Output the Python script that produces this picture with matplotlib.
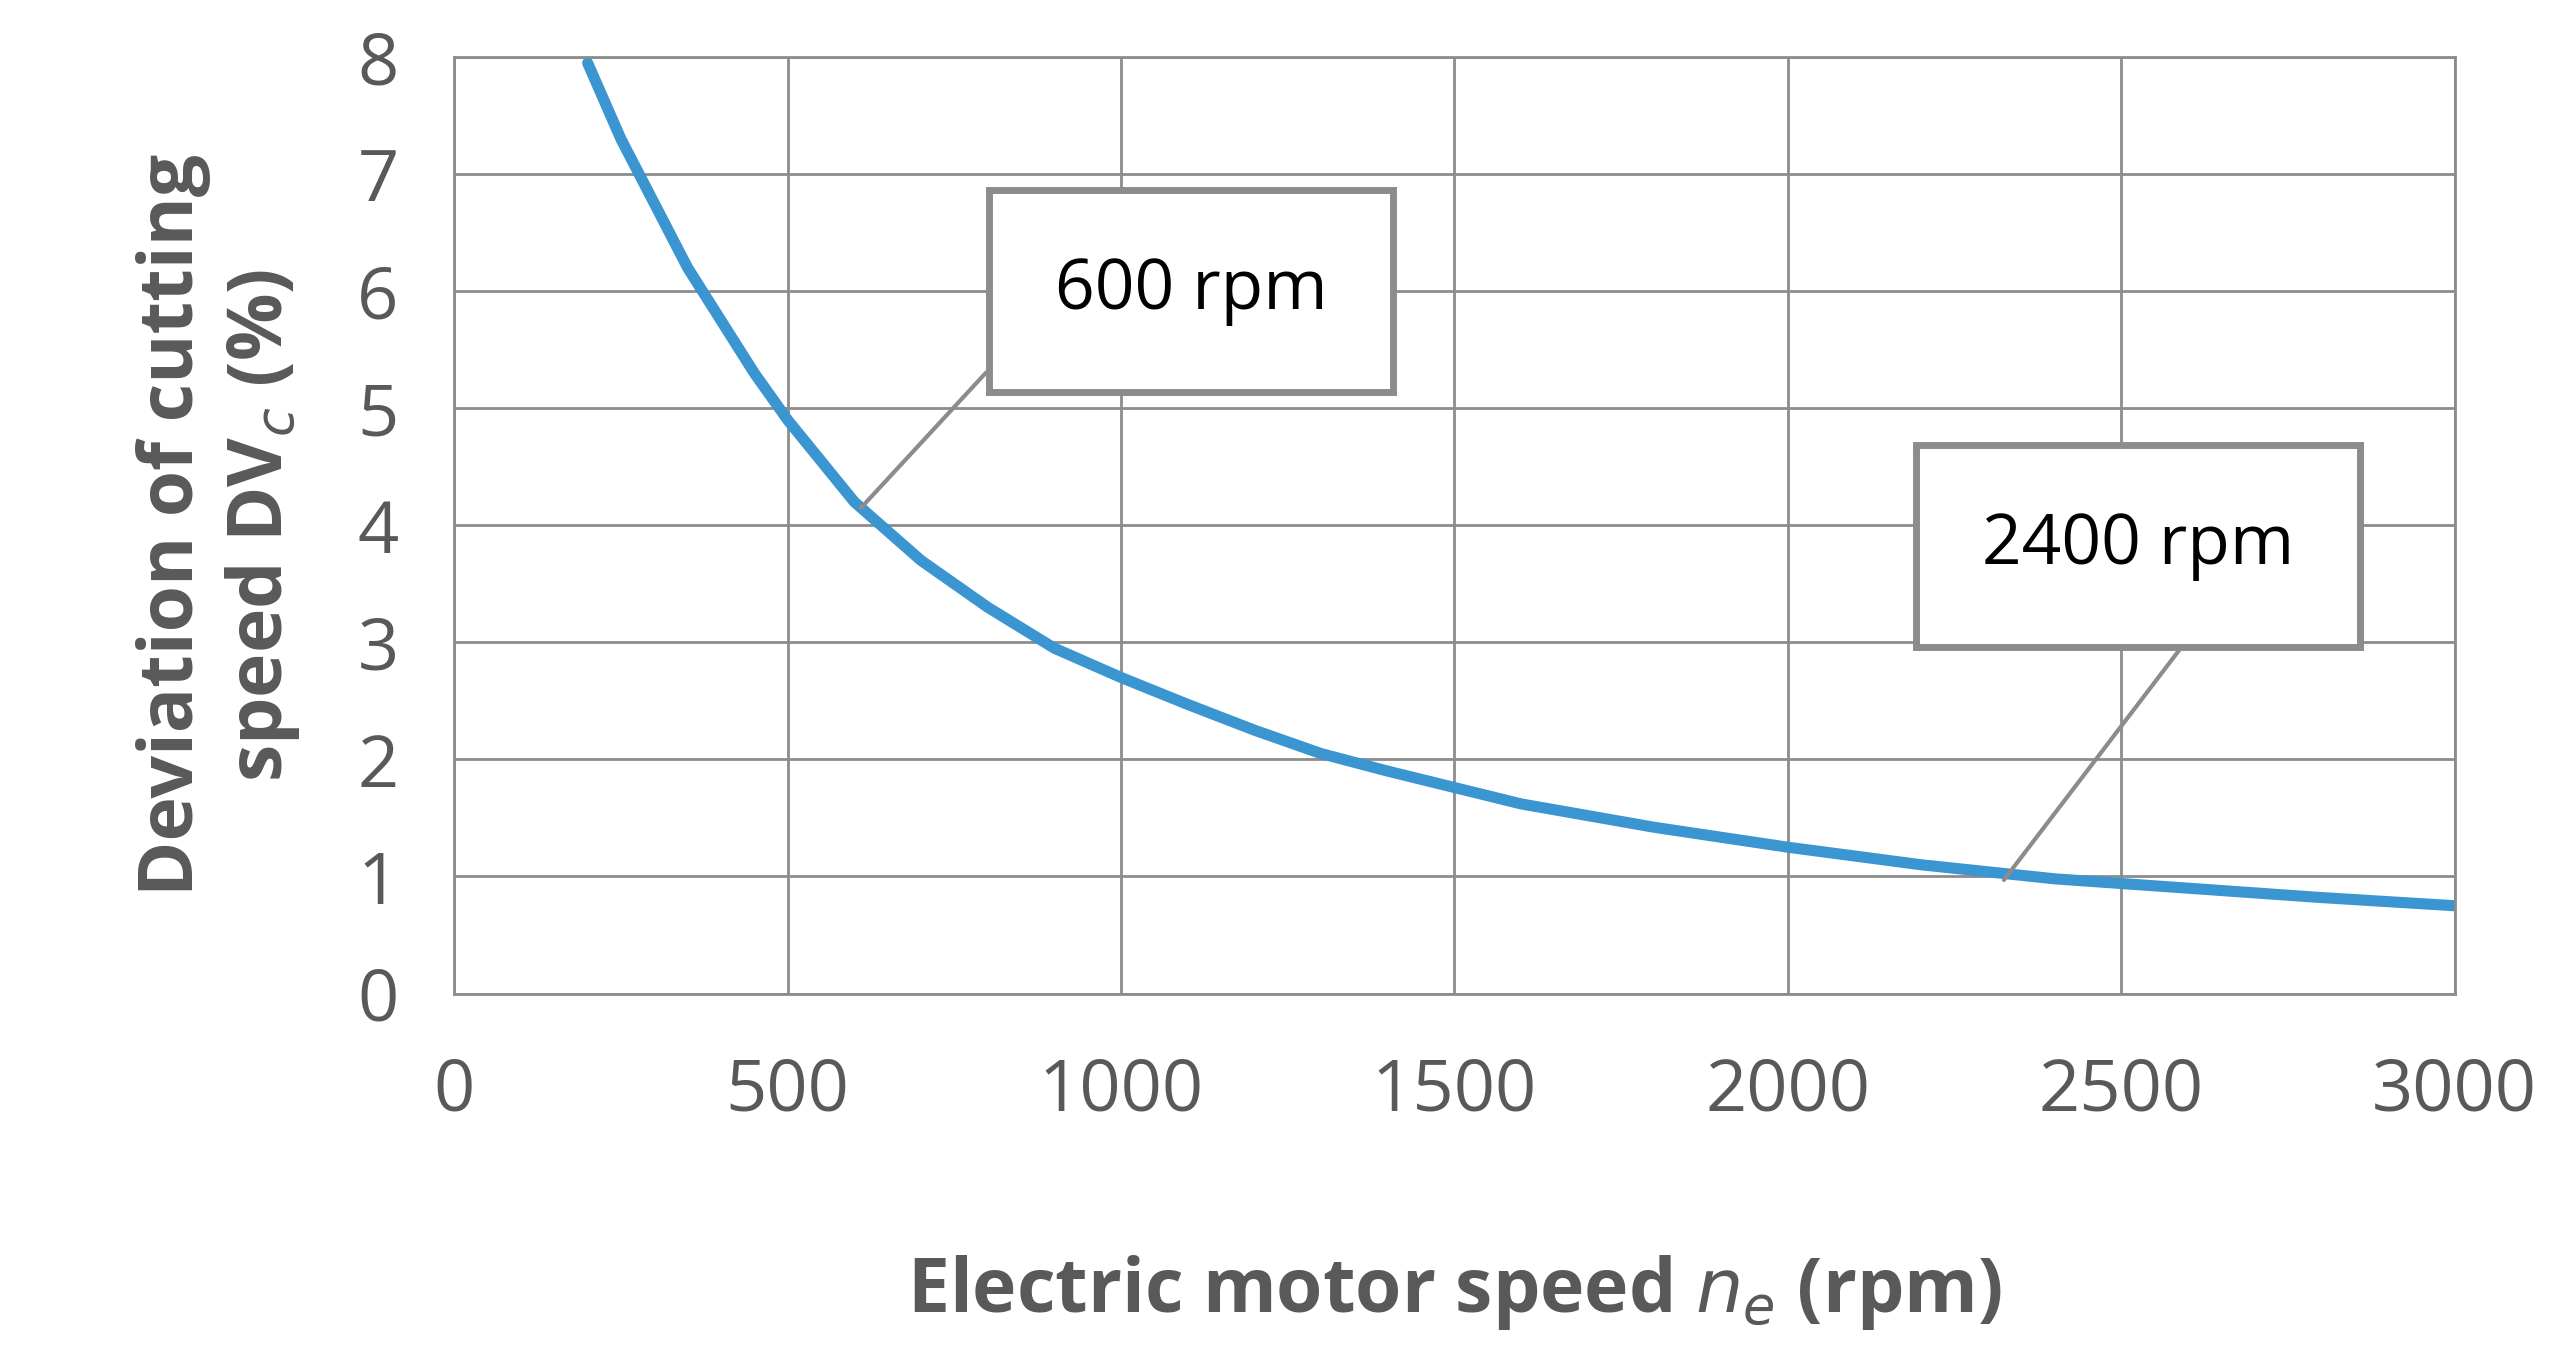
import matplotlib
matplotlib.use("Agg")
import matplotlib.pyplot as plt

speed = [200, 250, 300, 350, 400, 450, 500, 550, 600, 700, 800, 900, 1000, 1100, 1200, 1300, 1400, 1600, 1800, 2000, 2200, 2400, 2600, 2800, 3000]
deviation = [7.95, 7.3, 6.75, 6.2, 5.75, 5.3, 4.9, 4.55, 4.2, 3.7, 3.3, 2.95, 2.7, 2.47, 2.25, 2.05, 1.9, 1.62, 1.42, 1.25, 1.1, 0.98, 0.9, 0.82, 0.75]
ann_labels = ["600 rpm", "2400 rpm"]

plt.rcParams['font.family'] = ['Open Sans', 'DejaVu Sans']
gray = "#595959"
fig = plt.figure(figsize=(25.58, 13.61), dpi=100)
ax = fig.add_axes([0.1776, 0.270, 0.782, 0.688])
ax.plot(speed, deviation, color="#3b95d0", lw=8, solid_capstyle="round", solid_joinstyle="round")
ax.set_xlim(0, 3000)
ax.set_ylim(0, 8)
ax.set_xticks(range(0, 3001, 500))
ax.set_yticks(range(0, 9))
ax.grid(True, color="#8c8c8c", lw=2)
for s in ax.spines.values():
    s.set_color("#8c8c8c"); s.set_linewidth(2)
ax.tick_params(length=0, labelsize=52, labelcolor=gray, pad=40)
ax.tick_params(axis="x", pad=45)
ax.set_xlabel(r"Electric motor speed $\mathit{n_e}$ (rpm)", fontsize=54, fontweight="bold", color=gray, labelpad=90)
ax.set_ylabel("Deviation of cutting\nspeed DV$_c$ (%)", fontsize=54, fontweight="bold", color=gray, labelpad=40)

ax.annotate(ann_labels[0], xy=(610, 4.15), xytext=(1105, 6.0), fontsize=50, ha="center", va="center",
            bbox=dict(boxstyle="square,pad=0.95", fc="white", ec="#8c8c8c", lw=5),
            arrowprops=dict(arrowstyle="-", color="#8c8c8c", lw=3, shrinkA=0, shrinkB=0, relpos=(0.0, 0.4)))
ax.annotate(ann_labels[1], xy=(2324, 0.97), xytext=(2525, 3.82), fontsize=50, ha="center", va="center",
            bbox=dict(boxstyle="square,pad=0.95", fc="white", ec="#8c8c8c", lw=5),
            arrowprops=dict(arrowstyle="-", color="#8c8c8c", lw=3, shrinkA=0, shrinkB=0, relpos=(0.8, 0.0)))
fig.savefig("out.png", dpi=100)
